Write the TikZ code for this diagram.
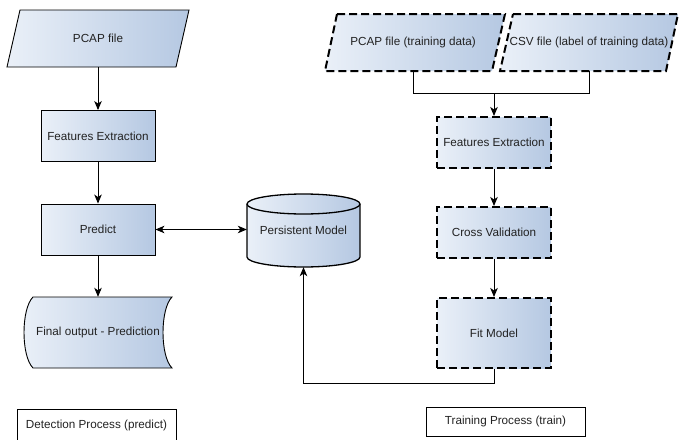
\documentclass[tikz,border=0pt]{standalone}
\usepackage{fontspec}
\setmainfont{Liberation Sans}
\usetikzlibrary{arrows.meta}
\definecolor{fillL}{HTML}{EAF0F8}
\definecolor{fillR}{HTML}{B5C8E2}
\definecolor{ink}{HTML}{222222}
\begin{document}
\begin{tikzpicture}[x=1pt,y=-1pt, font=\fontsize{11.7}{14}\selectfont, text=ink,
  box/.style={draw=black, line width=0.9pt, left color=fillL, right color=fillR, minimum width=114pt, minimum height=51pt, inner sep=0pt},
  dbox/.style={box, line width=2pt, dash pattern=on 8pt off 4pt},
  shp/.style={draw=black, line width=0.9pt, left color=fillL, right color=fillR},
  dshp/.style={shp, line width=2pt, dash pattern=on 8pt off 4pt},
  txt/.style={inner sep=0pt},
  conn/.style={line width=0.9pt, draw=black},
  tip/.tip={Stealth[length=9pt,width=7.5pt,inset=2.5pt]},
  arr/.style={conn, -tip},
  darr/.style={conn, tip-tip},
  lab/.style={draw=black, line width=0.8pt, inner sep=0pt}]
\useasboundingbox (0,0) rectangle (679,439);

% left column
\path[shp] (20,10) -- (189,10) -- (176,67) -- (7,67) -- cycle;
\node[txt, minimum width=100pt, minimum height=57pt] (pcap) at (98,38.5) {PCAP file};
\node[box] (fe) at (98,136) {Features Extraction};
\node[box] (pred) at (98,229.5) {Predict};
\path[shp] (33,297) -- (172,297) .. controls (160,309) and (160,356) .. (172,368) -- (33,368) .. controls (21,356) and (21,309) .. (33,297) -- cycle;
\node[txt, minimum width=148pt, minimum height=71pt] (final) at (98,332.5) {Final output - Prediction};

% persistent model cylinder
\path[shp, line width=1.3pt] (247,204) -- (247,257) arc[start angle=180, end angle=360, x radius=56.5pt, y radius=10pt] -- (360,204) arc[start angle=0, end angle=180, x radius=56.5pt, y radius=10pt] -- cycle;
\draw[line width=1.3pt] (247,204) arc[start angle=180, end angle=360, x radius=56.5pt, y radius=10pt];
\node[txt, minimum width=113pt, minimum height=73pt] (pm) at (303.5,230.5) {Persistent Model};

% right column
\path[dshp] (337,14) -- (505,14) -- (492,71) -- (325,71) -- cycle;
\node[txt, minimum width=100pt, minimum height=57pt] (pcapT) at (413,42.5) {PCAP file (training data)};
\path[dshp] (513,14) -- (678,14) -- (666,71) -- (500,71) -- cycle;
\node[txt, minimum width=100pt, minimum height=57pt] (csvT) at (589,42.5) {CSV file (label of training data)};
\node[dbox] (feT) at (494,142.5) {Features Extraction};
\node[dbox] (cv) at (494,232.5) {Cross Validation};
\node[dbox, minimum height=70pt] (fit) at (494,333) {Fit Model};

% labels
\node[lab, minimum width=159pt, minimum height=32pt] (det) at (96.5,425) {Detection Process (predict)};
\node[lab, minimum width=159pt, minimum height=29pt] (tr) at (505.5,421.5) {Training Process (train)};

% connectors
\draw[arr] (pcap.south) -- (fe.north);
\draw[arr] (fe.south) -- (pred.north);
\draw[arr] (pred.south) -- (final.north);
\draw[darr] (pred.east) -- (pred.east -| pm.west);
\coordinate (jy) at (0,93);
\draw[conn] (pcapT.south) |- (csvT.south |- jy) -- (csvT.south);
\draw[arr] (feT.north |- jy) -- (feT.north);
\draw[arr] (feT.south) -- (cv.north);
\draw[arr] (cv.south) -- (fit.north);
\draw[arr] (fit.south) -- ++(0,14) -| (pm.south);
\end{tikzpicture}
\end{document}
